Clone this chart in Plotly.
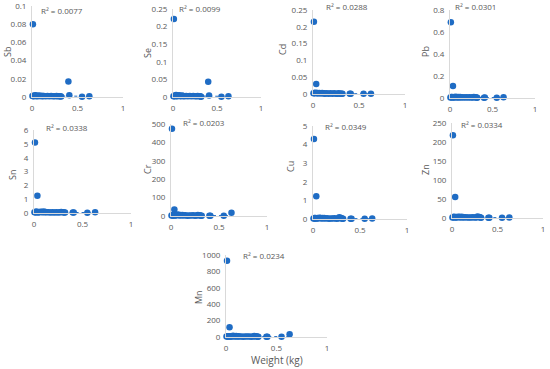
import numpy as np
import plotly.graph_objects as go

# ---------------- data ----------------
weight = [0.005, 0.01, 0.015, 0.02, 0.025, 0.035, 0.04, 0.045, 0.05, 0.06, 0.07, 0.08,
          0.09, 0.1, 0.11, 0.12, 0.13, 0.15, 0.17, 0.19, 0.21, 0.23, 0.25, 0.27, 0.28,
          0.3, 0.31, 0.32, 0.4, 0.41, 0.55, 0.63]

Sb = [0.0010, 0.0800, 0.0012, 0.0008, 0.0015, 0.0020, 0.0010, 0.0013, 0.0011, 0.0009, 0.0016,
      0.0012, 0.0010, 0.0014, 0.0009, 0.0011, 0.0010, 0.0008, 0.0012, 0.0009, 0.0010, 0.0007,
      0.0009, 0.0011, 0.0008, 0.0007, 0.0009, 0.0006, 0.0170, 0.0018, 0.0004, 0.0008]
Se = [0.002, 0.222, 0.003, 0.002, 0.004, 0.006, 0.003, 0.002, 0.004, 0.003, 0.005, 0.003,
      0.002, 0.004, 0.003, 0.003, 0.002, 0.003, 0.002, 0.003, 0.002, 0.003, 0.002, 0.002,
      0.003, 0.002, 0.002, 0.001, 0.043, 0.004, 0.001, 0.002]
Cd = [0.002, 0.215, 0.003, 0.002, 0.004, 0.030, 0.003, 0.002, 0.003, 0.002, 0.003, 0.002,
      0.002, 0.003, 0.002, 0.002, 0.001, 0.002, 0.001, 0.002, 0.001, 0.002, 0.001, 0.001,
      0.002, 0.001, 0.001, 0.001, 0.001, 0.001, 0.001, 0.001]
Pb = [0.005, 0.690, 0.008, 0.004, 0.010, 0.110, 0.006, 0.005, 0.009, 0.006, 0.012, 0.007,
      0.005, 0.010, 0.006, 0.008, 0.005, 0.006, 0.004, 0.006, 0.005, 0.007, 0.004, 0.005,
      0.010, 0.006, 0.004, 0.003, 0.003, 0.004, 0.002, 0.006]
Sn = [0.05, 5.10, 0.08, 0.04, 0.10, 1.25, 0.06, 0.05, 0.08, 0.06, 0.09, 0.07, 0.05, 0.10,
      0.06, 0.07, 0.05, 0.06, 0.04, 0.05, 0.04, 0.06, 0.04, 0.05, 0.07, 0.05, 0.04, 0.03,
      0.03, 0.03, 0.02, 0.05]
Cr = [3, 475, 5, 2, 6, 35, 4, 3, 5, 4, 8, 5, 3, 6, 4, 5, 3, 4, 2, 3, 3, 4, 2, 3, 6, 4, 2,
      1, 1, 2, 1, 17]
Cu = [0.03, 4.30, 0.05, 0.02, 0.06, 1.22, 0.04, 0.03, 0.05, 0.04, 0.07, 0.05, 0.03, 0.06,
      0.04, 0.05, 0.03, 0.04, 0.02, 0.03, 0.03, 0.04, 0.02, 0.03, 0.10, 0.05, 0.02, 0.01,
      0.01, 0.01, 0.01, 0.03]
Zn = [1.5, 218, 2.5, 1.0, 3.0, 55, 2.0, 1.5, 2.5, 2.0, 3.5, 2.5, 1.5, 3.0, 2.0, 2.5, 1.5,
      2.0, 1.0, 1.5, 1.5, 2.0, 1.0, 1.5, 4.0, 2.5, 1.0, 0.5, 0.5, 0.5, 0.5, 1.5]
Mn = [5, 930, 8, 4, 10, 120, 6, 5, 9, 6, 14, 8, 5, 12, 6, 8, 5, 7, 4, 6, 5, 7, 4, 5, 12, 8,
      4, 3, 3, 4, 2, 35]

elements = ["Sb", "Se", "Cd", "Pb", "Sn", "Cr", "Cu", "Zn", "Mn"]
series = [Sb, Se, Cd, Pb, Sn, Cr, Cu, Zn, Mn]
r2_values = ["0.0077", "0.0099", "0.0288", "0.0301", "0.0338", "0.0203", "0.0349", "0.0334", "0.0234"]
y_max = [0.1, 0.25, 0.25, 0.8, 6, 500, 5, 250, 1000]
y_dtick = [0.02, 0.05, 0.05, 0.2, 1, 100, 1, 50, 200]
x_tick_vals = [0, 0.5, 1]
x_tick_text = ["0", "0.5", "1"]
x_label = "Weight (kg)"

# ---------------- layout (pixel boxes: left, right, top, bottom) ----------------
W, H = 550, 369
boxes = [(32, 123, 6, 97), (173, 261, 9, 97), (313, 405, 10, 94), (450, 535, 10, 98),
         (34, 131, 130, 213), (171, 267, 124, 216), (313, 407, 126, 219), (452, 543, 123, 218),
         (226, 327, 255, 337)]
title_pos = [(8, 52), (147, 53), (283, 50), (426, 52), (12, 175), (148, 169), (290, 167),
             (425, 170), (198, 297)]
r2_pos = [(62, 10), (200, 8), (347, 7), (475, 7), (67, 127), (204, 122), (346, 126),
          (482, 124), (264, 255)]
xlabel_pos = (277, 360)

BLUE = "#1f6cc4"
GREY = "#595959"
AXIS = "#d9d9d9"
FONT = "Open Sans, Liberation Sans, Arial, sans-serif"

fig = go.Figure()
annotations = []
for i, (name, vals) in enumerate(zip(elements, series)):
    k = "" if i == 0 else str(i + 1)
    L, R, T, B = boxes[i]
    x = np.array(weight)
    y = np.array(vals, dtype=float)
    # power trendline fitted to the data
    b, a = np.polyfit(np.log(x), np.log(y), 1)
    xf = np.linspace(x.min(), x.max(), 200)
    yf = np.exp(a) * xf ** b
    fig.add_trace(go.Scatter(x=xf, y=yf, mode="lines", xaxis="x" + k, yaxis="y" + k,
                             line=dict(color=BLUE, width=1, dash="dot"),
                             showlegend=False, hoverinfo="skip"))
    fig.add_trace(go.Scatter(x=weight, y=vals, mode="markers", xaxis="x" + k, yaxis="y" + k,
                             marker=dict(color=BLUE, size=6.5), cliponaxis=False,
                             showlegend=False, name=name))
    fig.layout["xaxis" + k] = dict(
        domain=[L / W, R / W], anchor="y" + k, range=[0, 1.0001], automargin=False,
        tickvals=x_tick_vals, ticktext=x_tick_text, showgrid=False, zeroline=False,
        showline=True, linecolor=AXIS, linewidth=1, ticks="", ticklabelstandoff=3,
        ticklabeloverflow="allow", tickfont=dict(size=8, color=GREY, family=FONT))
    fig.layout["yaxis" + k] = dict(
        domain=[1 - B / H, 1 - T / H], anchor="x" + k, range=[0, y_max[i] * 1.0005],
        automargin=False, dtick=y_dtick[i], showgrid=False, zeroline=False, showline=True,
        linecolor=AXIS, linewidth=1, ticks="", ticklabelstandoff=3,
        ticklabeloverflow="allow", tickfont=dict(size=8, color=GREY, family=FONT))
    tx, ty = title_pos[i]
    annotations.append(dict(x=tx / W, y=1 - ty / H, xref="paper", yref="paper", text=name,
                            textangle=-90, showarrow=False, xanchor="center", yanchor="middle",
                            font=dict(size=9, color=GREY, family=FONT)))
    rx, ry = r2_pos[i]
    annotations.append(dict(x=rx / W, y=1 - ry / H, xref="paper", yref="paper",
                            text="R² = " + r2_values[i], showarrow=False,
                            xanchor="center", yanchor="middle",
                            font=dict(size=8, color=GREY, family=FONT)))

annotations.append(dict(x=xlabel_pos[0] / W, y=1 - xlabel_pos[1] / H, xref="paper",
                        yref="paper", text=x_label, showarrow=False,
                        xanchor="center", yanchor="middle",
                        font=dict(size=10, color=GREY, family=FONT)))

fig.update_layout(width=W, height=H, margin=dict(l=0, r=0, t=0, b=0),
                  paper_bgcolor="white", plot_bgcolor="white", annotations=annotations,
                  showlegend=False)
fig.write_html("out.html", config={"displayModeBar": False},
               post_script="document.body.style.margin='0';document.body.style.padding='0';")
